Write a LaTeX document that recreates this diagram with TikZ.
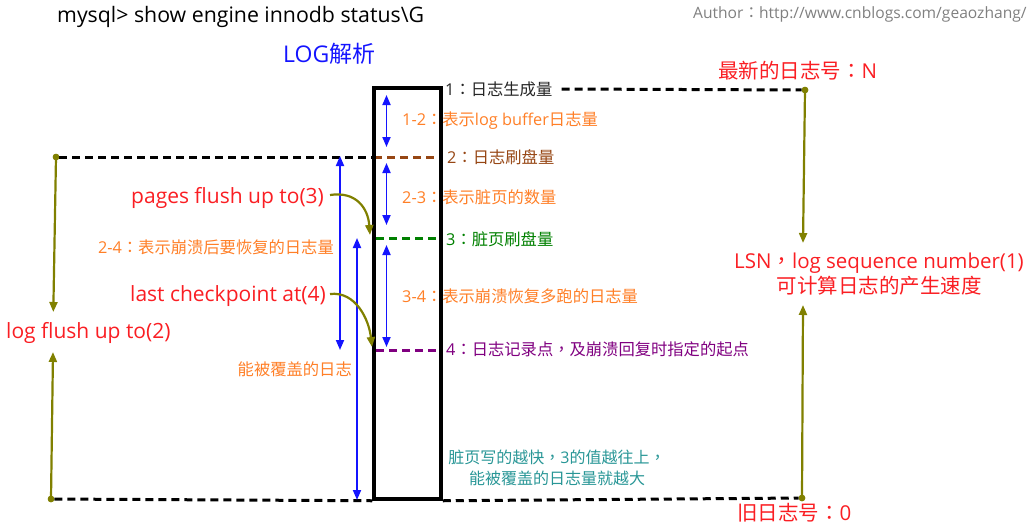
\documentclass[tikz,border=0pt]{standalone}
\usepackage{fontspec}
\setmainfont{Noto Sans CJK SC}
\newfontfamily\tcfont{Noto Sans CJK TC}
\newfontfamily\lat{Open Sans}
\newcommand{\fcol}{{\tcfont ：}}
\newcommand{\fcom}{{\tcfont ，}}
\usetikzlibrary{arrows.meta}
\definecolor{cred}{RGB}{250,30,35}
\definecolor{corange}{RGB}{255,127,39}
\definecolor{cbrown}{RGB}{150,70,20}
\definecolor{cgreen}{RGB}{0,128,0}
\definecolor{cpurple}{RGB}{128,0,128}
\definecolor{cteal}{RGB}{40,150,150}
\definecolor{colive}{RGB}{128,128,0}
\definecolor{cblue}{RGB}{20,20,255}
\definecolor{cgray}{RGB}{128,128,128}
\begin{document}
\begin{tikzpicture}[x=1pt,y=-1pt,
  lbl/.style={inner sep=0pt, anchor=west, font=\fontsize{16.3}{18}\selectfont},
  bigl/.style={inner sep=0pt, anchor=west, font=\fontsize{20.5}{22}\selectfont, text=cred},
  latl/.style={inner sep=0pt, anchor=west, font=\fontsize{21}{23}\selectfont\lat, text=cred},
  dsh/.style={line width=3pt, dash pattern=on 8pt off 5pt},
  barr/.style={cblue, line width=1.8pt, {Triangle[length=10pt,width=8pt]}-{Triangle[length=10pt,width=8pt]}},
  oarr/.style={colive, line width=2.2pt, -{Triangle[length=10pt,width=8pt]}},
  odot/.style={circle, fill=colive, inner sep=0pt, minimum size=6.5pt},
  boxst/.style={draw, line width=3.5pt, minimum width=67pt, minimum height=411pt, inner sep=0pt}
]
\useasboundingbox (0,0) rectangle (1036,531);

% titles
\node[inner sep=0, anchor=west, font=\fontsize{21.3}{23}\selectfont\lat] (title) at (57,17) {mysql> show engine innodb status\textbackslash G};
\node[inner sep=0, anchor=west, font=\fontsize{15.6}{18}\selectfont, text=cgray] (author) at (693,14) {{\lat Author}\fcol{\lat http://www.cnblogs.com/geaozhang/}};
\node[inner sep=0, anchor=west, font=\fontsize{23}{25}\selectfont, text=cblue] (logt) at (283,54) {{\lat LOG}解析};

% box
\node[boxst] (box) at (407.5,293.5) {};

% key points
\node[odot] (nN) at (805,90) {};
\node[odot] (n0R) at (802,498) {};
\node[odot] (n2L) at (56,157) {};
\node[odot] (n0L) at (51,499) {};
\coordinate (b2L) at (374,157); \coordinate (b2R) at (440,157);
\coordinate (b3L) at (376,238); \coordinate (b3R) at (440,238);
\coordinate (b4L) at (376,350); \coordinate (b4R) at (440,350);

% level labels
\node[lbl, text=black!85] (t1) at (445,89) {{\lat 1}\fcol 日志生成量};
\node[lbl, text=cbrown] (t2) at (447,157) {{\lat 2}\fcol 日志刷盘量};
\node[lbl, text=cgreen] (t3) at (446,239) {{\lat 3}\fcol 脏页刷盘量};
\node[lbl, text=cpurple] (t4) at (446,349) {{\lat 4}\fcol 日志记录点\fcom 及崩溃回复时指定的起点};
\node[lbl, text=corange] (t12) at (402,121) {{\lat 1-2}\fcol 表示{\lat log buffer}日志量};
\node[lbl, text=corange] (t23) at (402,197) {{\lat 2-3}\fcol 表示脏页的数量};
\node[lbl, text=corange] (t34) at (402,296) {{\lat 3-4}\fcol 表示崩溃恢复多跑的日志量};
\node[lbl, text=corange, anchor=east] (t24) at (334,247) {{\lat 2-4}\fcol 表示崩溃后要恢复的日志量};
\node[lbl, text=corange, anchor=east] (tcov) at (352,369) {能被覆盖的日志};
\node[inner sep=0pt, align=center, font=\fontsize{16}{21}\selectfont, text=cteal] (tfast) at (557,468) {脏页写的越快\fcom{\lat 3}的值越往上\fcom\\能被覆盖的日志量就越大};

% red labels
\node[latl] (pfl) at (131,198) {pages flush up to(3)};
\node[latl] (lcp) at (130,296) {last checkpoint at(4)};
\node[latl] (lfl) at (6,333) {log flush up to(2)};
\node[bigl] (newest) at (718,71) {最新的日志号\fcol{\lat N}};
\node[bigl] (oldest) at (737,513) {旧日志号\fcol{\lat 0}};
\node[inner sep=0pt, align=center, font=\fontsize{20.5}{25}\selectfont, text=cred] (lsn) at (879,274) {{\lat LSN}\fcom{\lat log sequence number(1)}\\可计算日志的产生速度};

% dashed levels
\draw[dsh] ([xshift=9pt]t1.east) -- (nN);
\draw[dsh] (n2L) -- (b2L);
\draw[dsh, cbrown] (b2L) -- (b2R);
\draw[dsh, cgreen] (b3L) -- (b3R);
\draw[dsh, cpurple] (b4L) -- (b4R);
\draw[dsh] (n0L) -- (box.south west);
\draw[dsh] (box.south east) -- (n0R);
\node[boxst] (box2) at (407.5,293.5) {};

% blue double arrows
\coordinate (a12t) at (386.5,95); \coordinate (a12b) at (386.5,147);
\coordinate (a23t) at (386.5,163); \coordinate (a23b) at (386.5,225);
\coordinate (a34t) at (386.5,245); \coordinate (a34b) at (386.5,347);
\coordinate (a24t) at (340,156); \coordinate (a24b) at (340,350);
\coordinate (acvt) at (357,238); \coordinate (acvb) at (357,500);
\draw[barr] (a12t) -- (a12b);
\draw[barr] (a23t) -- (a23b);
\draw[barr] (a34t) -- (a34b);
\draw[barr] (a24t) -- (a24b);
\draw[barr] (acvt) -- (acvb);

% olive arrows
\coordinate (lt) at (53.3,312); \coordinate (lb) at (53,352);
\coordinate (rt) at (803,243); \coordinate (rb) at (803,305);
\draw[oarr] (n2L.center) -- (lt);
\draw[oarr] (n0L.center) -- (lb);
\draw[oarr] (nN.center) -- (rt);
\draw[oarr] (n0R.center) -- (rb);
\node[odot] at (nN) {};
\node[odot] at (n0R) {};
\node[odot] at (n2L) {};
\node[odot] at (n0L) {};

% curved arrows
\coordinate (c3) at (370,235); \coordinate (c4) at (372,347);
\coordinate (s3) at (330,195); \coordinate (s4) at (330,294);
\draw[oarr] (s3) .. controls (356,191) and (368,208) .. (c3);
\draw[oarr] (s4) .. controls (356,291) and (369,320) .. (c4);
\end{tikzpicture}
\end{document}
